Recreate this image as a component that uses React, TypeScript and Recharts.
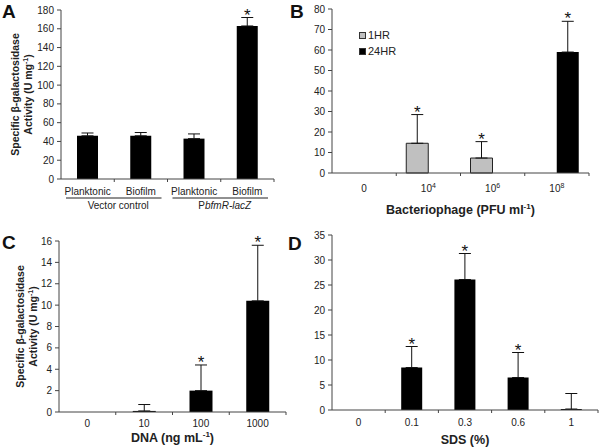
import React from "react";
import { BarChart, Bar, XAxis, YAxis, ErrorBar, LabelList, Legend } from "recharts";

const FONT = '"Liberation Sans", Arial, Helvetica, sans-serif';
const INK = "#222";
const AXIS = "#444";

// panel A - reporter activity, planktonic vs biofilm
const conditionsA = ["Planktonic", "Biofilm", "Planktonic", "Biofilm"];
const strainsA = ["Vector control", "PbfmR-lacZ"];
const activityA = [46, 46, 43, 163];
const errorA = [3, 3.5, 5, 9];
const starA = [false, false, false, true];
const ticksA = [0, 20, 40, 60, 80, 100, 120, 140, 160, 180];

// panel B - bacteriophage
const phageDoses = ["0", "10^4", "10^6", "10^8"];
const act1hr = [0, 14.5, 7.3, 0];
const err1hr = [0, 14, 8, 0];
const star1hr = [false, true, true, false];
const act24hr = [0, 0, 0, 59];
const err24hr = [0, 0, 0, 15];
const star24hr = [false, false, false, true];
const ticksB = [0, 10, 20, 30, 40, 50, 60, 70, 80];

// panel C - DNA
const dnaDoses = ["0", "10", "100", "1000"];
const actDna = [0, 0.1, 2, 10.4];
const errDna = [0, 0.6, 2.4, 5.2];
const starDna = [false, false, true, true];
const ticksC = [0, 2, 4, 6, 8, 10, 12, 14, 16];

// panel D - SDS
const sdsDoses = ["0", "0.1", "0.3", "0.6", "1"];
const actSds = [0, 8.5, 26.1, 6.5, 0.2];
const errSds = [0, 4.2, 5.2, 5, 3.1];
const starSds = [false, true, true, true, false];
const ticksD = [0, 5, 10, 15, 20, 25, 30, 35];

const idsA = conditionsA.map((c, i) => "a" + i);
const dataA = conditionsA.map((c, i) => ({ id: idsA[i], value: activityA[i], err: [0, errorA[i]] }));
const dataB = phageDoses.map((d, i) => ({
  id: d,
  h1: act1hr[i],
  e1: [0, err1hr[i]],
  h24: act24hr[i],
  e24: [0, err24hr[i]],
}));
const dataC = dnaDoses.map((d, i) => ({ id: d, value: actDna[i], err: [0, errDna[i]] }));
const dataD = sdsDoses.map((d, i) => ({ id: d, value: actSds[i], err: [0, errSds[i]] }));

// label list is keyed by category id, since zero bars are skipped in its index
const starLabel = (ids: string[], vals: number[], errs: number[], stars: boolean[]) => (p: any) => {
  const vb = p.viewBox || {};
  const x = p.x ?? vb.x;
  const y = p.y ?? vb.y;
  const w = p.width ?? vb.width;
  const h = p.height ?? vb.height;
  const i = ids.indexOf(String(p.value));
  if (i < 0 || !stars[i] || !vals[i]) return null;
  const top = y - errs[i] * (h / vals[i]);
  return (
    <text key={"s" + i} x={x + w / 2} y={top + 3} textAnchor="middle" fontSize={17} fontFamily={FONT} fill="#111">
      *
    </text>
  );
};

function TickText({ x, y, label }: any) {
  const [base, exp] = label.split("^");
  return (
    <text x={x} y={y} textAnchor="middle" fontSize={10} fill={INK} fontFamily={FONT}>
      {base}
      {exp && (
        <tspan dy={-4} fontSize={7}>
          {exp}
        </tspan>
      )}
    </text>
  );
}

function CatTick(props: any) {
  const { x, y, payload, index, labels, band, base } = props;
  const off = payload?.offset ?? band / 2;
  return (
    <g>
      <line x1={x + off} x2={x + off} y1={y} y2={y + 3} stroke={AXIS} />
      <TickText x={x} y={y + base} label={labels[index]} />
    </g>
  );
}

function GroupTick(props: any) {
  const { x, y, payload, index, band } = props;
  const off = payload?.offset ?? band / 2;
  const first = index % 2 === 0;
  const strain = strainsA[Math.floor(index / 2)];
  return (
    <g>
      <line x1={x + off} x2={x + off} y1={y} y2={y + 3} stroke={AXIS} />
      <TickText x={x} y={y + 16} label={conditionsA[index]} />
      {first && (
        <g>
          <line x1={x - off + 5} x2={x + 3 * off - 6} y1={y + 19} y2={y + 19} stroke={INK} />
          <text x={x + off + 4} y={y + 30} textAnchor="middle" fontSize={10} fill={INK} fontFamily={FONT}>
            {strain.startsWith("Pbfm") ? (
              <>
                P<tspan fontStyle="italic">{strain.slice(1)}</tspan>
              </>
            ) : (
              strain
            )}
          </text>
        </g>
      )}
    </g>
  );
}

const yLabel = (cx1: number, cx2: number) => (p: any) => {
  const vb = p.viewBox || {};
  const cy = vb.y + vb.height / 2;
  const common = { textAnchor: "middle" as const, fontSize: 10.5, fontWeight: 700, fill: INK, fontFamily: FONT };
  return (
    <g>
      <text {...common} x={cx1} y={cy + 4} transform={`rotate(-90 ${cx1} ${cy})`}>
        Specific β-galactosidase
      </text>
      <text {...common} x={cx2} y={cy + 4} transform={`rotate(-90 ${cx2} ${cy})`}>
        Activity (U mg
        <tspan dy={-4} fontSize={7}>
          -1
        </tspan>
        <tspan dy={4}>)</tspan>
      </text>
    </g>
  );
};

const xLabel = (text: string, sup: string, rest: string, base: number) => (p: any) => {
  const vb = p.viewBox || {};
  return (
    <text x={vb.x + vb.width / 2} y={vb.y + base} textAnchor="middle" fontSize={12.5} fontWeight={700} fill={INK} fontFamily={FONT}>
      {text}
      {sup && (
        <tspan dy={-5} fontSize={8}>
          {sup}
        </tspan>
      )}
      {rest && <tspan dy={sup ? 5 : 0}>{rest}</tspan>}
    </text>
  );
};

const legendContent = (p: any) => (
  <div style={{ fontFamily: FONT, fontSize: 11, color: INK }}>
    {(p.payload || []).map((e: any) => (
      <div key={e.value} style={{ display: "flex", alignItems: "center", height: 16 }}>
        <span
          style={{
            display: "inline-block",
            width: 5,
            height: 5,
            background: e.payload?.fill ?? e.color,
            border: "1px solid #333",
            marginRight: 2,
          }}
        />
        {e.value}
      </div>
    ))}
  </div>
);

const yCommon = {
  type: "number" as const,
  tickSize: 4,
  tickMargin: 3,
  interval: 0 as const,
  axisLine: { stroke: AXIS },
  tickLine: { stroke: AXIS },
  tick: { fontSize: 10, fill: INK, fontFamily: FONT },
};

const xCommon = {
  dataKey: "id",
  type: "category" as const,
  tickSize: 0,
  tickMargin: 0,
  interval: 0 as const,
  tickLine: false,
  axisLine: { stroke: AXIS },
};

const Letter = ({ x, y, c }: any) => (
  <text x={x} y={y} fontSize={19} fontWeight={700} fill="#111" fontFamily={FONT}>
    {c}
  </text>
);

export default function App() {
  return (
    <div style={{ position: "absolute", left: 0, top: 0, width: 600, height: 447, background: "#fff" }}>
      <div style={{ position: "absolute", left: 0, top: 0 }}>
        <BarChart width={300} height={224} data={dataA} margin={{ top: 10, right: 26, bottom: 0, left: 0 }}>
          <XAxis {...xCommon} height={45} tick={(p: any) => <GroupTick {...p} band={53.25} />} />
          <YAxis {...yCommon} domain={[0, 180]} ticks={ticksA} width={61} label={{ content: yLabel(15, 28) }} />
          <Bar dataKey="value" fill="#000" barSize={21} isAnimationActive={false}>
            <ErrorBar dataKey="err" width={6} stroke="#111" strokeWidth={1} />
            <LabelList dataKey="id" content={starLabel(idsA, activityA, errorA, starA)} />
          </Bar>
        </BarChart>
      </div>

      <div style={{ position: "absolute", left: 300, top: 0 }}>
        <BarChart width={300} height={224} data={dataB} barGap={0} margin={{ top: 9, right: 11, bottom: 0, left: 0 }}>
          <XAxis
            {...xCommon}
            height={51}
            tick={(p: any) => <CatTick {...p} labels={phageDoses} band={64.25} base={19} />}
            label={{ content: xLabel("Bacteriophage (PFU ml", "-1", ")", 41) }}
          />
          <YAxis {...yCommon} domain={[0, 80]} ticks={ticksB} width={32} />
          <Legend
            layout="vertical"
            align="center"
            verticalAlign="middle"
            wrapperStyle={{ left: 59, top: 27, width: 60, height: 34 }}
            content={legendContent}
          />
          <Bar dataKey="h1" name="1HR" fill="#c0c0c0" stroke="#222" strokeWidth={1} barSize={22} isAnimationActive={false}>
            <ErrorBar dataKey="e1" width={6} stroke="#111" strokeWidth={1} />
            <LabelList dataKey="id" content={starLabel(phageDoses, act1hr, err1hr, star1hr)} />
          </Bar>
          <Bar dataKey="h24" name="24HR" fill="#000" barSize={22} isAnimationActive={false}>
            <ErrorBar dataKey="e24" width={6} stroke="#111" strokeWidth={1} />
            <LabelList dataKey="id" content={starLabel(phageDoses, act24hr, err24hr, star24hr)} />
          </Bar>
        </BarChart>
      </div>

      <div style={{ position: "absolute", left: 0, top: 224 }}>
        <BarChart width={300} height={223} data={dataC} margin={{ top: 17, right: 14, bottom: 0, left: 0 }}>
          <XAxis
            {...xCommon}
            height={35}
            tick={(p: any) => <CatTick {...p} labels={dnaDoses} band={56.75} base={14.5} />}
            label={{ content: xLabel("DNA (ng mL", "-1", ")", 30) }}
          />
          <YAxis {...yCommon} domain={[0, 16]} ticks={ticksC} width={59} label={{ content: yLabel(20, 33) }} />
          <Bar dataKey="value" fill="#000" barSize={23} isAnimationActive={false}>
            <ErrorBar dataKey="err" width={6} stroke="#111" strokeWidth={1} />
            <LabelList dataKey="id" content={starLabel(dnaDoses, actDna, errDna, starDna)} />
          </Bar>
        </BarChart>
      </div>

      <div style={{ position: "absolute", left: 300, top: 224 }}>
        <BarChart width={300} height={223} data={dataD} margin={{ top: 11, right: 2, bottom: 0, left: 0 }}>
          <XAxis
            {...xCommon}
            height={37}
            tick={(p: any) => <CatTick {...p} labels={sdsDoses} band={53.2} base={16} />}
            label={{ content: xLabel("SDS (%)", "", "", 34) }}
          />
          <YAxis {...yCommon} domain={[0, 35]} ticks={ticksD} width={32} />
          <Bar dataKey="value" fill="#000" barSize={21} isAnimationActive={false}>
            <ErrorBar dataKey="err" width={6} stroke="#111" strokeWidth={1} />
            <LabelList dataKey="id" content={starLabel(sdsDoses, actSds, errSds, starSds)} />
          </Bar>
        </BarChart>
      </div>

      <svg width={600} height={447} style={{ position: "absolute", left: 0, top: 0, pointerEvents: "none" }}>
        <Letter x={2} y={18} c="A" />
        <Letter x={290} y={18} c="B" />
        <Letter x={2} y={249} c="C" />
        <Letter x={288} y={250} c="D" />
      </svg>
    </div>
  );
}
